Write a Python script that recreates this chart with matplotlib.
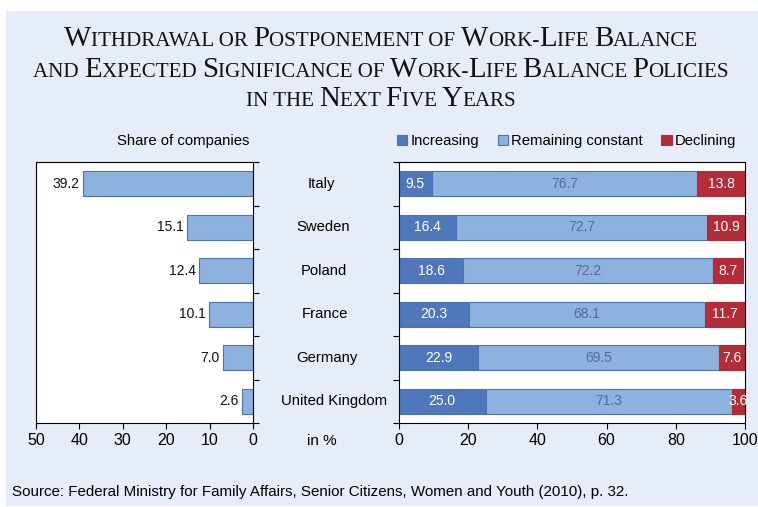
import matplotlib
matplotlib.use("Agg")
import matplotlib.pyplot as plt
from matplotlib.patches import Rectangle
import numpy as np

countries = ["Italy", "Sweden", "Poland", "France", "Germany", "United Kingdom"]
share = [39.2, 15.1, 12.4, 10.1, 7.0, 2.6]
increasing = [9.5, 16.4, 18.6, 20.3, 22.9, 25.0]
constant = [76.7, 72.7, 72.2, 68.1, 69.5, 71.3]
declining = [13.8, 10.9, 8.7, 11.7, 7.6, 3.6]
left_ticks = [50, 40, 30, 20, 10, 0]
right_ticks = [0, 20, 40, 60, 80, 100]
title_lines = ["Withdrawal or Postponement of Work-Life Balance",
               "and Expected Significance of Work-Life Balance Policies",
               "in the Next Five Years"]
source = "Source: Federal Ministry for Family Affairs, Senior Citizens, Women and Youth (2010), p. 32."

W, H = 758, 507
BG = "#E6ECF8"
C_INC = "#4F78BC"
C_CON = "#8DB2DE"
C_DEC = "#B42C37"
EDGE = "#4A72B8"
SANS = "Liberation Sans"
SERIF = "Liberation Serif"

fig = plt.figure(figsize=(W / 100, H / 100), dpi=100)
fig.patch.set_facecolor("white")
fig.patches.append(Rectangle((6 / W, 1 - 506 / H), (W - 6) / W, (506 - 11) / H,
                             transform=fig.transFigure, facecolor=BG, edgecolor="none", zorder=-10))

def fx(x):
    return x / W

def fy(y):
    return 1 - y / H

# Small-caps title
renderer = fig.canvas.get_renderer()
BIG, SMALL = 20.8, 15.1
line_y = [46, 77, 106]
for line, yy in zip(title_lines, line_y):
    runs = []
    for ch in line:
        big = ch.isupper()
        if runs and runs[-1][1] == big:
            runs[-1][0] += ch
        else:
            runs.append([ch, big])
    texts = []
    for s, big in runs:
        t = fig.text(0, fy(yy), s.upper(), fontsize=BIG if big else SMALL, family=SERIF,
                     va="baseline", ha="left", color="#111111")
        texts.append(t)
    widths = [t.get_window_extent(renderer).width for t in texts]
    total = sum(widths)
    x0 = W / 2 - total / 2 + 2
    for t, w in zip(texts, widths):
        t.set_x(fx(x0))
        x0 += w

y = np.arange(len(countries))
bh = 0.58

# Left chart
axL = fig.add_axes([fx(36), fy(423), fx(253) - fx(36), (423 - 162) / H])
axL.barh(y, share, height=bh, color=C_CON, edgecolor=EDGE, linewidth=0.8)
axL.set_xlim(50, 0)
axL.set_ylim(len(countries) - 0.5, -0.5)
axL.set_xticks(left_ticks)
axL.set_xticklabels([str(v) for v in left_ticks], fontsize=11.5, family=SANS)
axL.yaxis.tick_right()
axL.set_yticks(np.arange(-0.5, len(countries), 1.0))
axL.set_yticklabels([])
axL.tick_params(axis="y", direction="out", length=4, width=0.8)
axL.tick_params(axis="x", direction="out", length=4, width=0.8, pad=3)
for i, v in enumerate(share):
    axL.text(v + 0.8, i, f"{v:.1f}", ha="right", va="center", fontsize=10, family=SANS, color="#111111")
for s in axL.spines.values():
    s.set_linewidth(0.8)

fig.text(fx(183), fy(141), "Share of companies", ha="center", va="center", fontsize=10.7, family=SANS)

# Right chart
axR = fig.add_axes([fx(399), fy(423), fx(745) - fx(399), (423 - 162) / H])
inc = np.array(increasing)
con = np.array(constant)
dec = np.array(declining)
axR.barh(y, inc, height=bh, color=C_INC, edgecolor=EDGE, linewidth=0.8, label="Increasing")
axR.barh(y, con, left=inc, height=bh, color=C_CON, edgecolor=EDGE, linewidth=0.8, label="Remaining constant")
axR.barh(y, dec, left=inc + con, height=bh, color=C_DEC, edgecolor=C_DEC, linewidth=0.8, label="Declining")
axR.set_xlim(0, 100)
axR.set_ylim(len(countries) - 0.5, -0.5)
axR.set_xticks(right_ticks)
axR.set_xticklabels([str(v) for v in right_ticks], fontsize=11.5, family=SANS)
axR.set_yticks(np.arange(-0.5, len(countries), 1.0))
axR.set_yticklabels([])
axR.tick_params(axis="y", direction="out", length=4, width=0.8)
axR.tick_params(axis="x", direction="out", length=4, width=0.8, pad=3)
for s in axR.spines.values():
    s.set_linewidth(0.8)
for i in range(len(countries)):
    axR.text(inc[i] / 2, i, f"{inc[i]:.1f}", ha="center", va="center", fontsize=10, family=SANS, color="white")
    axR.text(inc[i] + con[i] / 2, i, f"{con[i]:.1f}", ha="center", va="center", fontsize=10, family=SANS, color="#5B6A9E")
    axR.text(inc[i] + con[i] + dec[i] / 2, i, f"{dec[i]:.1f}", ha="center", va="center", fontsize=10, family=SANS, color="white")

# Country labels (placed between the two panels)
label_x = [321, 323.5, 323.5, 325, 327, 334]
for i, c in enumerate(countries):
    yy = 162 + (i + 0.5) * (423 - 162) / len(countries)
    fig.text(fx(label_x[i]), fy(yy), c, ha="center", va="center", fontsize=10.7, family=SANS)
fig.text(fx(322), fy(441), "in %", ha="center", va="center", fontsize=11, family=SANS)

# Legend
fig.legend(handles=axR.get_legend_handles_labels()[0], labels=["Increasing", "Remaining constant", "Declining"],
           loc="center left", bbox_to_anchor=(fx(397), fy(141)), ncol=3, frameon=False,
           prop={"family": SANS, "size": 10.7}, handlelength=0.7, handleheight=0.7,
           handletextpad=0.2, columnspacing=1.25, borderaxespad=0, borderpad=0)

fig.text(fx(12), fy(492), source, ha="left", va="center", fontsize=10.9, family=SANS)

fig.savefig("out.png", dpi=100, facecolor=fig.get_facecolor())
